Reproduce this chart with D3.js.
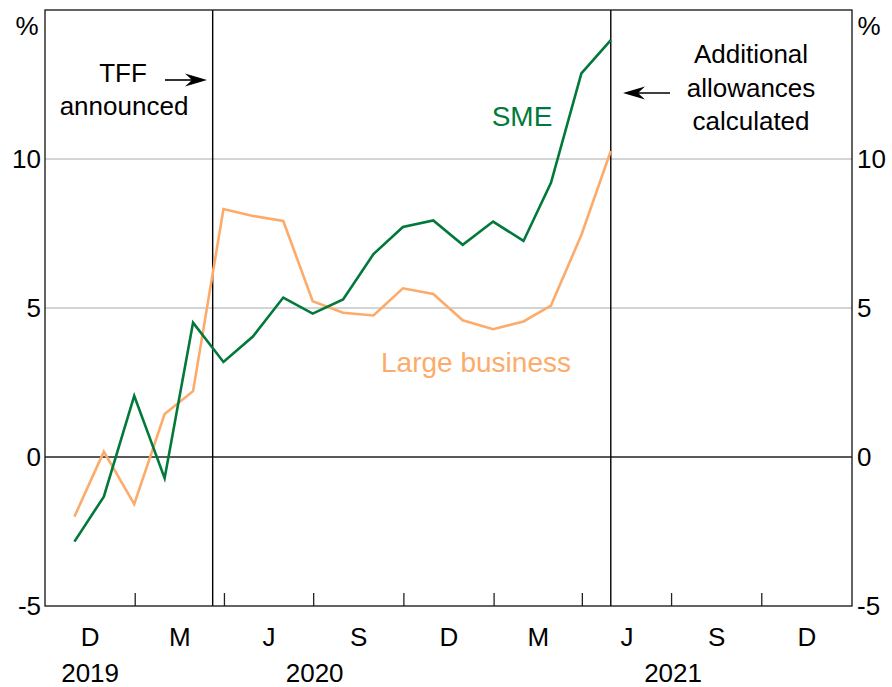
<!DOCTYPE html>
<html>
<head>
<meta charset="utf-8">
<script src="https://cdn.jsdelivr.net/npm/d3@7"></script>
<style>
  body { margin: 0; background: #fff; }
  text { font-family: "Liberation Sans", Arial, sans-serif; }
</style>
</head>
<body>
<svg id="chart" width="892" height="687"></svg>
<script>
// monthly observations, end of month, Oct 2019 - Apr 2021
var months = ['2019-10','2019-11','2019-12','2020-01','2020-02','2020-03','2020-04','2020-05',
  '2020-06','2020-07','2020-08','2020-09','2020-10','2020-11','2020-12','2021-01','2021-02',
  '2021-03','2021-04'];
var sme = [-2.84, -1.33, 2.05, -0.71, 4.51, 3.19, 4.04, 5.35, 4.81, 5.29, 6.81, 7.72, 7.94,
  7.12, 7.90, 7.25, 9.20, 12.87, 13.99];
var largeBusiness = [-2.0, 0.18, -1.58, 1.44, 2.21, 8.32, 8.09, 7.92, 5.23, 4.84, 4.75, 5.66,
  5.47, 4.59, 4.29, 4.55, 5.08, 7.45, 10.27];
var yTicks = [-5, 0, 5, 10];
var quarterLabels = ['D','M','J','S','D','M','J','S','D'];
var years = ['2019','2020','2021'];
var eventDates = ['2020-03-20', '2021-04-30'];

var svg = d3.select('#chart');
var m = { left: 45, right: 852, top: 10, bottom: 606 };

// end-of-month dates
var parseM = d3.timeParse('%Y-%m');
var dates = months.map(function(s) { return d3.timeDay.offset(d3.timeMonth.offset(parseM(s), 1), -1); });

var x = d3.scaleTime()
  .domain([new Date(2019, 9, 1), new Date(2022, 0, 1)])
  .range([m.left, m.right]);
var y = d3.scaleLinear().domain([-5, 15]).range([m.bottom, m.top]);

var green = '#00793a', orange = '#fdab6b';

// grid lines
svg.selectAll('.grid').data(yTicks.filter(function(d) { return d > -5; }))
  .enter().append('line')
  .attr('x1', m.left).attr('x2', m.right)
  .attr('y1', function(d) { return y(d); }).attr('y2', function(d) { return y(d); })
  .attr('stroke', function(d) { return d === 0 ? '#222' : '#aaaaaa'; })
  .attr('stroke-width', function(d) { return d === 0 ? 1.3 : 1.2; });

// quarter tick marks along bottom
var qTicks = d3.timeMonth.every(3).range(new Date(2020, 0, 1), new Date(2022, 0, 1));
svg.selectAll('.qtick').data(qTicks).enter().append('line')
  .attr('x1', function(d) { return x(d); }).attr('x2', function(d) { return x(d); })
  .attr('y1', m.bottom).attr('y2', m.bottom - 13)
  .attr('stroke', '#222').attr('stroke-width', 1.3);

// event lines
svg.selectAll('.event').data(eventDates).enter().append('line')
  .attr('x1', function(d) { return x(new Date(d)); }).attr('x2', function(d) { return x(new Date(d)); })
  .attr('y1', m.top).attr('y2', m.bottom)
  .attr('stroke', '#000').attr('stroke-width', 1.4);

// frame
svg.append('rect')
  .attr('x', m.left).attr('y', m.top)
  .attr('width', m.right - m.left).attr('height', m.bottom - m.top)
  .attr('fill', 'none').attr('stroke', '#222').attr('stroke-width', 1.4);

var line = d3.line()
  .x(function(d, i) { return x(dates[i]); })
  .y(function(d) { return y(d); });

svg.append('path').datum(largeBusiness)
  .attr('d', line).attr('fill', 'none')
  .attr('stroke', orange).attr('stroke-width', 2.6);
svg.append('path').datum(sme)
  .attr('d', line).attr('fill', 'none')
  .attr('stroke', green).attr('stroke-width', 2.6);

// y axis labels, both sides
var fs = 26;
svg.selectAll('.yl').data(yTicks).enter().append('text')
  .attr('x', m.left - 4).attr('y', function(d) { return y(d); })
  .attr('dy', '0.36em').attr('text-anchor', 'end')
  .style('font-size', fs + 'px').text(function(d) { return d; });
svg.selectAll('.yr').data(yTicks).enter().append('text')
  .attr('x', m.right + 5).attr('y', function(d) { return y(d); })
  .attr('dy', '0.36em').attr('text-anchor', 'start')
  .style('font-size', fs + 'px').text(function(d) { return d; });
svg.append('text').attr('x', 27).attr('y', 35).attr('text-anchor', 'middle')
  .style('font-size', fs + 'px').text('%');
svg.append('text').attr('x', 869).attr('y', 35).attr('text-anchor', 'middle')
  .style('font-size', fs + 'px').text('%');

// quarter labels, centred in each quarter
var qStarts = d3.timeMonth.every(3).range(new Date(2019, 9, 1), new Date(2022, 0, 1));
svg.selectAll('.ql').data(qStarts).enter().append('text')
  .attr('x', function(d) { return (x(d) + x(d3.timeMonth.offset(d, 3))) / 2; })
  .attr('y', 646).attr('text-anchor', 'middle')
  .style('font-size', fs + 'px')
  .text(function(d, i) { return quarterLabels[i]; });

// year labels, centred on the visible part of each year
svg.selectAll('.yr-l').data(years).enter().append('text')
  .attr('x', function(d) {
    var s = d3.max([new Date(+d, 0, 1), x.domain()[0]]);
    var e = d3.min([new Date(+d + 1, 0, 1), x.domain()[1]]);
    return (x(s) + x(e)) / 2;
  })
  .attr('y', 682).attr('text-anchor', 'middle')
  .style('font-size', fs + 'px').text(function(d) { return d; });

// series labels
svg.append('text').attr('x', 522).attr('y', 126).attr('text-anchor', 'middle')
  .attr('fill', green).style('font-size', '28px').text('SME');
svg.append('text').attr('x', 476).attr('y', 372).attr('text-anchor', 'middle')
  .attr('fill', orange).style('font-size', '28px').text('Large business');

// annotations: horizontal arrow from x0 to tip at x1
function arrow(x0, x1, yy) {
  var dir = x1 > x0 ? 1 : -1;
  svg.append('line').attr('x1', x0).attr('y1', yy).attr('x2', x1 - dir * 12).attr('y2', yy)
    .attr('stroke', '#000').attr('stroke-width', 1.6);
  svg.append('path')
    .attr('d', 'M' + x1 + ',' + yy + 'L' + (x1 - dir * 22) + ',' + (yy - 6.5) +
      'L' + (x1 - dir * 15) + ',' + yy + 'L' + (x1 - dir * 22) + ',' + (yy + 6.5) + 'Z')
    .attr('fill', '#000');
}

svg.append('text').attr('x', 123).attr('y', 82).attr('text-anchor', 'middle')
  .style('font-size', fs + 'px').text('TFF');
svg.append('text').attr('x', 124).attr('y', 115).attr('text-anchor', 'middle')
  .style('font-size', fs + 'px').text('announced');
arrow(165, 207, 80);

var addl = ['Additional', 'allowances', 'calculated'];
svg.selectAll('.addl').data(addl).enter().append('text')
  .attr('x', 751).attr('y', function(d, i) { return 63 + i * 33.5; })
  .attr('text-anchor', 'middle').style('font-size', fs + 'px').text(function(d) { return d; });
arrow(670, 623, 93);
</script>
</body>
</html>
